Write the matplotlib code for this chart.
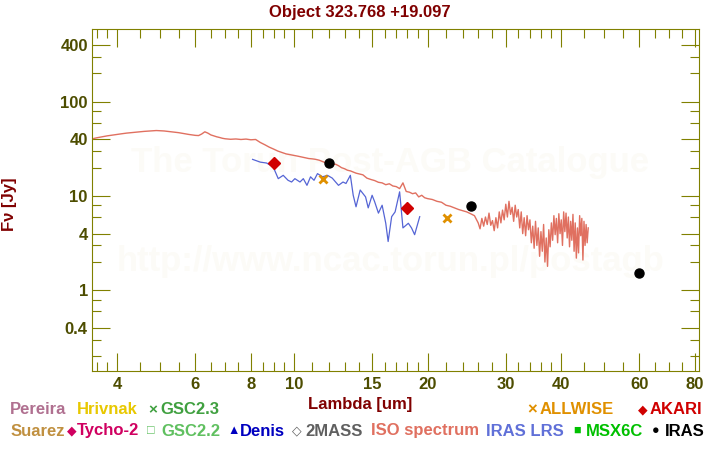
import matplotlib
matplotlib.use("Agg")
import matplotlib.pyplot as plt
from matplotlib.ticker import FixedLocator, FixedFormatter, NullFormatter

plt.rcParams["font.family"] = ["Liberation Sans", "DejaVu Sans"]
plt.rcParams["font.weight"] = "bold"

# ISO spectrum (um, Jy)
iso_wl = [
    3.52, 3.6, 3.7, 3.8, 3.9, 4.0, 4.1, 4.2, 4.3, 4.4, 4.5, 4.6, 4.7, 4.8, 4.9,
    5.0, 5.1, 5.2, 5.3, 5.4, 5.5, 5.6, 5.7, 5.8, 5.9, 6.0, 6.1, 6.2, 6.3, 6.4,
    6.5, 6.6, 6.7, 6.8, 6.9, 7.0, 7.2, 7.4, 7.6, 7.8, 8.0, 8.2, 8.4, 8.6, 8.8,
    9.0, 9.2, 9.4, 9.6, 9.8, 10.0, 10.2, 10.4, 10.6, 10.8, 11.0, 11.2, 11.4,
    11.6, 11.8, 12.0, 12.2, 12.4, 12.6, 12.8, 13.0, 13.2, 13.4, 13.6, 13.8,
    14.0, 14.3, 14.6, 14.9, 15.2, 15.5, 15.8, 16.1, 16.4, 16.7, 17.0, 17.3,
    17.6, 17.9, 18.2, 18.5, 18.8, 19.1, 19.4, 19.7, 20.0, 20.5, 21.0, 21.5,
    22.0, 22.5, 23.0, 23.5, 24.0, 24.5, 25.0, 25.5,
    26.0, 26.25, 26.5, 26.75, 27.0, 27.25, 27.5, 27.75, 28.0, 28.25, 28.5,
    28.75, 29.0, 29.25, 29.5, 29.75, 30.0, 30.25, 30.5, 30.75, 31.0, 31.25,
    31.5, 31.75, 32.0, 32.25, 32.5, 32.75, 33.0, 33.25, 33.5, 33.75, 34.0,
    34.25, 34.5, 34.75, 35.0, 35.25, 35.5, 35.75, 36.0, 36.25, 36.5, 36.75,
    37.0, 37.25, 37.5, 37.75, 38.0, 38.25, 38.5, 38.75, 39.0, 39.25, 39.5,
    39.75, 40.0, 40.25, 40.5, 40.75, 41.0, 41.25, 41.5, 41.75, 42.0, 42.25,
    42.5, 42.75, 43.0, 43.25, 43.5, 43.75, 44.0, 44.25, 44.5, 44.75, 45.0,
    45.25, 45.5, 45.75, 46.0,
]
iso_flux = [
    40.5, 41.5, 42.5, 43.5, 44.3, 45.0, 45.8, 46.5, 47.0, 47.6, 48.0, 48.5,
    48.8, 49.2, 49.5, 49.3, 49.0, 48.5, 48.0, 47.6, 47.0, 46.3, 45.6, 45.0,
    44.5, 44.0, 43.8, 45.5, 48.0, 46.5, 44.5, 43.5, 42.5, 41.8, 41.0, 40.5,
    40.0, 40.3, 39.8, 40.2, 39.5, 39.8, 37.0, 35.0, 33.0, 31.5, 30.0, 29.0,
    28.0, 27.5, 27.0, 26.5, 26.0, 25.5, 25.0, 24.8, 24.5, 24.0, 23.2, 22.5,
    22.0, 21.5, 21.8, 21.0, 20.0, 19.5, 18.8, 18.5, 18.0, 17.5, 17.2, 16.8,
    15.5, 15.0, 14.6, 14.0, 13.8, 13.2, 13.5, 12.8, 12.6, 12.0, 13.8, 11.2,
    11.0, 10.6, 10.8, 9.8, 10.2, 9.6, 9.4, 9.2, 8.8, 8.6, 8.0, 7.8, 7.5, 7.2,
    7.0, 6.8, 6.5, 6.2,
    5.2, 4.5, 5.8, 4.8, 6.0, 5.0, 6.6, 4.9, 5.5, 4.3, 5.9, 4.6, 6.8, 5.2, 7.1,
    5.6, 8.2, 6.0, 8.8, 6.4, 7.6, 5.4, 8.0, 6.0, 7.2, 4.6, 6.8, 4.0, 5.9, 3.8,
    6.2, 4.4, 5.6, 3.2, 4.8, 2.8, 5.4, 3.0, 4.6, 2.3, 4.2, 2.6, 5.0, 2.0, 3.6,
    1.8, 4.4, 2.9, 5.2, 3.4, 6.2, 3.9, 5.8, 3.2, 6.5, 4.0, 5.6, 3.0, 6.8, 4.2,
    6.6, 3.6, 6.0, 2.9, 5.4, 3.4, 6.4, 2.6, 5.2, 2.2, 4.6, 2.5, 6.2, 3.8, 5.8,
    2.1, 5.4, 3.0, 5.0, 3.2, 4.6,
]

# IRAS LRS spectrum
lrs_wl = [
    8.07, 8.4, 8.68, 8.98, 9.22, 9.46, 9.7, 9.88, 10.05, 10.32, 10.5, 10.7,
    10.9, 11.1, 11.3, 11.6, 11.9, 12.2, 12.6, 12.9, 13.1, 13.4, 13.6, 13.8,
    14.1, 14.5, 14.7, 15.0, 15.2, 15.5, 15.8, 16.1, 16.3, 16.6, 16.9, 17.3,
    17.6, 18.1, 18.4, 18.7, 19.2,
]
lrs_flux = [
    24.5, 22.9, 22.4, 20.4, 15.3, 16.6, 14.7, 14.1, 15.3, 14.1, 15.3, 13.0,
    16.0, 14.7, 17.3, 16.0, 16.6, 15.5, 13.0, 14.1, 13.6, 16.6, 10.2, 7.7,
    11.6, 9.8, 7.5, 10.2, 8.7, 6.6, 8.0, 5.15, 3.3, 6.05, 6.8, 11.1, 4.6,
    5.15, 4.6, 3.9, 6.05,
]

# photometry
akari_wl = [9.0, 18.0]
akari_flux = [22.6, 7.4]
iras_wl = [12.0, 25.0, 60.0]
iras_flux = [22.6, 7.9, 1.54]
allwise_wl = [11.6, 22.1]
allwise_flux = [15.0, 5.8]

x_major = [4, 6, 8, 10, 15, 20, 30, 40, 60, 80]
x_minor = [3.6, 3.8, 4.5, 5, 5.5, 6.5, 7, 7.5, 8.5, 9, 9.5, 11, 12, 13, 14,
           16, 17, 18, 19, 22, 24, 26, 28, 32, 34, 36, 38, 45, 50, 55,
           65, 70, 75]
y_major = [0.4, 1, 4, 10, 40, 100, 400]
y_minor = [0.2, 0.3, 0.6, 0.8, 2, 3, 6, 8, 20, 30, 60, 80, 200, 300]

AXC = "#808000"
LBC = "#4d4d00"

fig = plt.figure(figsize=(7.2, 4.5), dpi=100)
ax = fig.add_axes([92 / 720, 1 - 371 / 450, 607 / 720, 342 / 450])

# watermark
ax.text(0.491, 0.611, "The Torun Post-AGB Catalogue", transform=ax.transAxes,
        ha="center", va="center", fontsize=25, color="#fcfbf7", zorder=0)
ax.text(0.491, 0.319, "http://www.ncac.torun.pl/postagb", transform=ax.transAxes,
        ha="center", va="center", fontsize=25, color="#fcfbf7", zorder=0)

ax.plot(iso_wl, iso_flux, color="#e07060", lw=1.0, zorder=2)
ax.plot(lrs_wl, lrs_flux, color="#5565d5", lw=0.9, zorder=3)
ax.plot(akari_wl, akari_flux, "D", color="#d00000", ms=6, zorder=4)
ax.plot(iras_wl, iras_flux, "o", color="black", ms=6.5, zorder=4)
ax.plot(allwise_wl, allwise_flux, "x", color="#e09000", ms=6, mew=2, zorder=4)

ax.set_xscale("log")
ax.set_yscale("log")
ax.set_xlim(3.51, 81.7)
ax.set_ylim(0.14, 590)

ax.xaxis.set_major_locator(FixedLocator(x_major))
ax.xaxis.set_major_formatter(FixedFormatter([str(v) for v in x_major]))
ax.xaxis.set_minor_locator(FixedLocator(x_minor))
ax.xaxis.set_minor_formatter(NullFormatter())
ax.yaxis.set_major_locator(FixedLocator(y_major))
ax.yaxis.set_major_formatter(FixedFormatter([f"{v:g}" for v in y_major]))
ax.yaxis.set_minor_locator(FixedLocator(y_minor))
ax.yaxis.set_minor_formatter(NullFormatter())

ax.tick_params(which="both", direction="in", top=True, right=True,
               color=AXC, width=0.8, labelcolor=LBC, labelsize=12)
ax.tick_params(which="major", length=13)
ax.tick_params(which="minor", length=6.5)
ax.tick_params(axis="y", pad=3)
ax.tick_params(axis="x", pad=4)
for s in ax.spines.values():
    s.set_color(AXC)
    s.set_linewidth(0.8)

fig.text(0.5, 1 - 12 / 450, "Object 323.768 +19.097", ha="center", va="center",
         fontsize=12, color="#800000")
fig.text(0.5, 1 - 404 / 450, "Lambda [um]", ha="center", va="center",
         fontsize=12, color="#800000")
fig.text(9.5 / 720, 1 - 204 / 450, "Fν [Jy]", ha="center", va="center",
         rotation=90, fontsize=12, color="#800000")

# legend rows: (x px, text, colour, fontsize)
row1 = [
    (10, "Pereira", "#b07090", 12),
    (77, "Hrivnak", "#e8c800", 12),
    (148, "×", "#40a040", 11),
    (160, "GSC2.3", "#40a040", 12),
    (527, "×", "#e09000", 12),
    (540, "ALLWISE", "#e09000", 12),
    (638, "◆", "#d00000", 9),
    (650, "AKARI", "#d00000", 12),
]
row2 = [
    (11, "Suarez", "#c09040", 12),
    (67, "◆", "#d00060", 9),
    (77, "Tycho-2", "#d00060", 12),
    (147, "□", "#60c060", 9),
    (161, "GSC2.2", "#60c060", 12),
    (227, "▲", "#0000c0", 9),
    (240, "Denis", "#0000c0", 12),
    (292, "◇", "#606060", 9),
    (305, "2MASS", "#606060", 12),
    (371, "ISO spectrum", "#e07060", 12),
    (486, "IRAS LRS", "#6070d8", 12),
    (573, "■", "#00c000", 9),
    (586, "MSX6C", "#00c000", 12),
    (652, "●", "black", 9),
    (665, "IRAS", "black", 12),
]
for ypx, row in ((410, row1), (431, row2)):
    for xpx, txt, col, fs in row:
        fig.text(xpx / 720, 1 - ypx / 450, txt, ha="left", va="center",
                 fontsize=fs, color=col)

fig.savefig("out.png", dpi=100)
